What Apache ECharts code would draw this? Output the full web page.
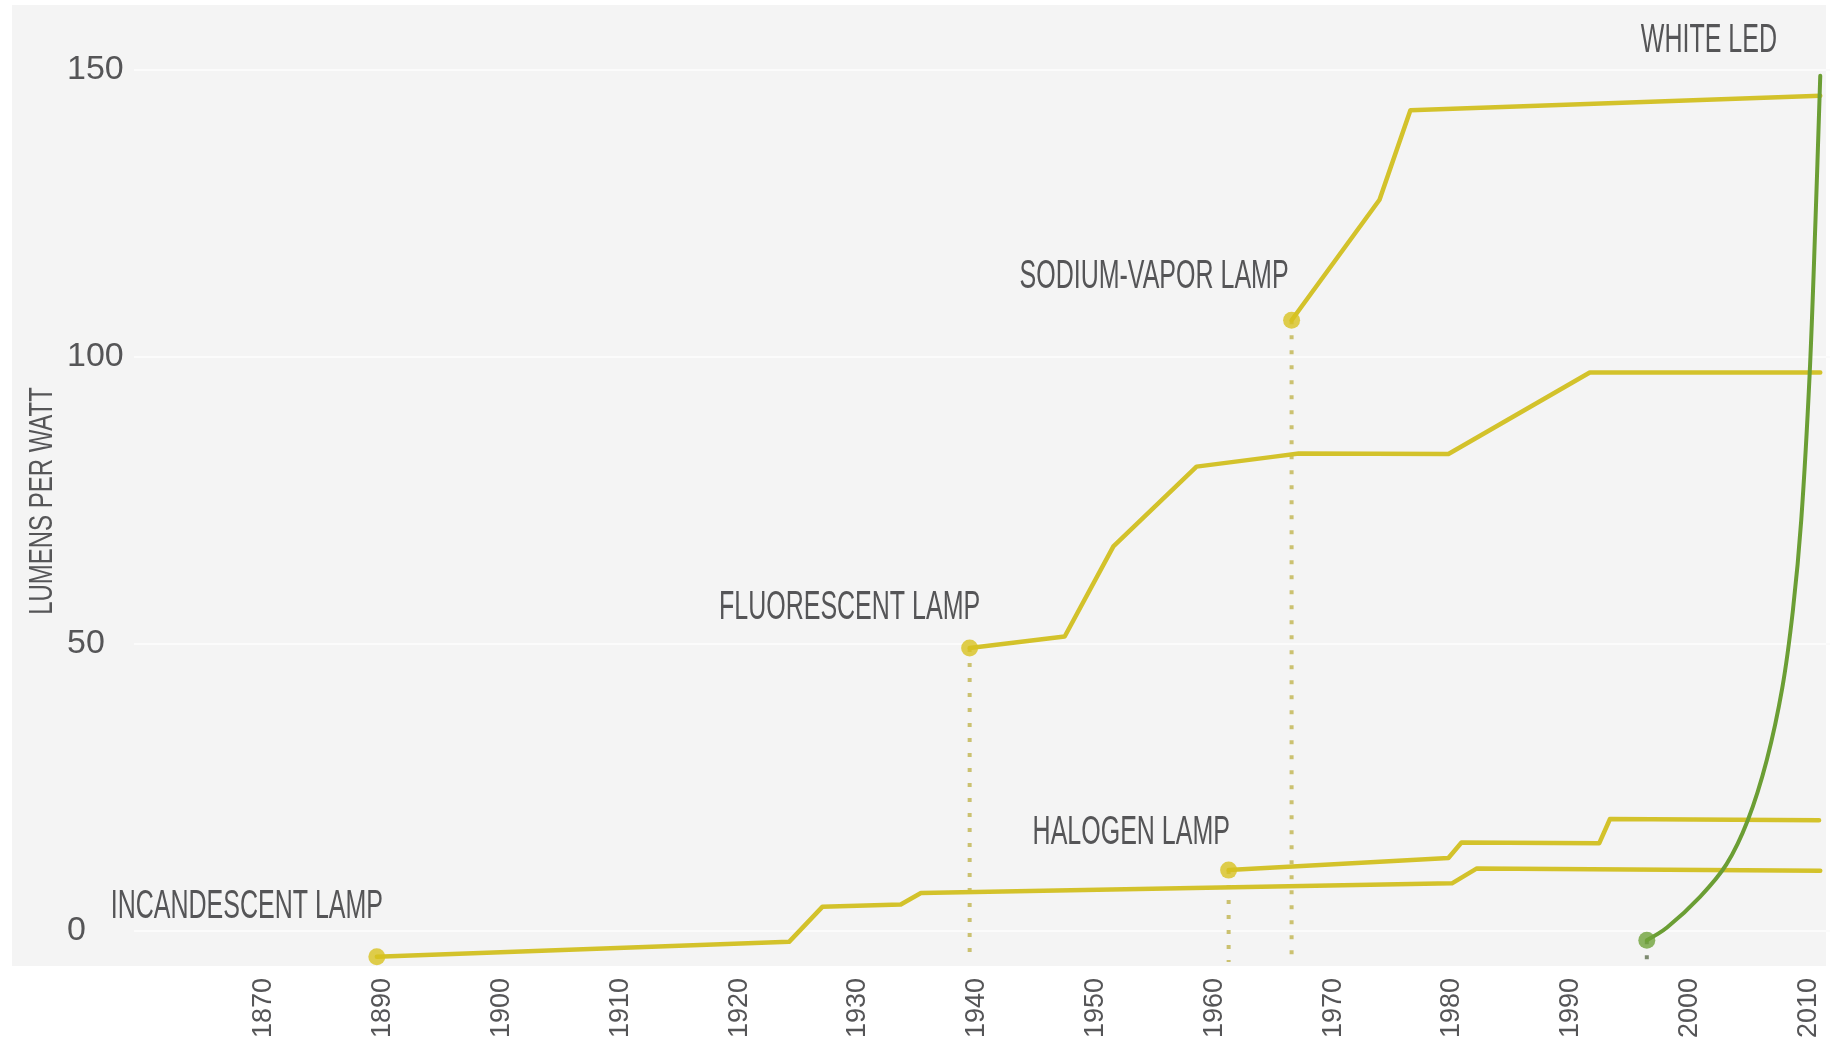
<!DOCTYPE html>
<html>
<head>
<meta charset="utf-8">
<script src="https://cdn.jsdelivr.net/npm/echarts@6/dist/echarts.min.js"></script>
<style>
  html, body { margin: 0; padding: 0; background: #ffffff; }
  #wrap { position: relative; width: 1834px; height: 1042px; overflow: hidden; }
  #panel { position: absolute; left: 12px; top: 5px; width: 1814px; height: 961px; background: #f4f4f4; }
  #c { position: absolute; left: 0; top: 0; width: 1834px; height: 1042px; }
</style>
</head>
<body>
<div id="wrap"><div id="panel"></div><div id="c"></div></div>
<script>
// ---------- tick labels ----------
const xTickPositions = [1880, 1890, 1900, 1910, 1920, 1930, 1940, 1950, 1960, 1970, 1980, 1990, 2000, 2010];
const xTickLabels = ['1870', '1890', '1900', '1910', '1920', '1930', '1940', '1950', '1960', '1970', '1980', '1990', '2000', '2010'];
const yTickValues = [0, 50, 100, 150];

// ---------- series values: [year, lumens per watt] ----------
const incandescent = [[1889.5, -4.5], [1924.2, -1.9], [1927.0, 4.2], [1933.6, 4.6], [1935.3, 6.6], [1980.0, 8.3], [1982.1, 10.9], [2011.0, 10.5]];
const halogen = [[1961.2, 10.6], [1979.7, 12.7], [1980.8, 15.4], [1992.4, 15.3], [1993.3, 19.5], [2010.9, 19.3]];
const fluorescent = [[1939.4, 49.3], [1947.4, 51.3], [1951.5, 67.0], [1958.5, 80.9], [1964.9, 82.6], [1967.1, 83.2], [1979.7, 83.1], [1991.6, 97.3], [2011.0, 97.3]];
const sodiumVapor = [[1966.5, 106.4], [1973.9, 127.4], [1976.5, 143.0], [2011.0, 145.5]];
const whiteLed = [[1996.4, -1.6], [1998.1, 0.6], [2000.9, 6.0], [2003.1, 11.6], [2004.9, 19.3], [2006.5, 29.8], [2007.8, 42.3], [2008.7, 55.9], [2009.4, 71.6], [2010.1, 96.7], [2010.6, 123.9], [2011.0, 149.0]];
const dropBottom = -5.4;

// ---------- annotation texts anchored in data space ----------
const annotationTexts = ['INCANDESCENT LAMP', 'FLUORESCENT LAMP', 'HALOGEN LAMP', 'SODIUM-VAPOR LAMP', 'WHITE LED'];
const annotationAnchors = [[1867.1, 4.1], [1918.3, 56.3], [1944.7, 17.1], [1943.6, 114.0], [1995.9, 155.05]];
const yAxisTitle = 'LUMENS PER WATT';

// ---------- styles ----------
const YELLOW = '#d3c22b';
const YELLOW_DOT = '#d8c21f';
const YELLOW_DROP = '#cbc170';
const GREEN = '#6b9e34';
const GREEN_DOT = '#6fa33a';
const TEXT = '#555557';
const AXIS_FONT = "'Liberation Sans', Arial, sans-serif";

function lineSeries(name, data, color, width, extra) {
  return Object.assign({
    name: name, type: 'line', data: data, showSymbol: false, symbol: 'none',
    lineStyle: { color: color, width: width, join: 'round', cap: 'round' },
    z: 3, silent: true, animation: false
  }, extra || {});
}
function dropSeries(start, color) {
  return {
    type: 'line', data: [[start[0], start[1]], [start[0], dropBottom]], showSymbol: false, symbol: 'none',
    lineStyle: { color: color, width: 4, type: [4, 11], cap: 'butt' }, z: 1, silent: true, animation: false
  };
}

const starts = [
  { p: incandescent[0], c: YELLOW_DOT },
  { p: fluorescent[0], c: YELLOW_DOT },
  { p: halogen[0], c: YELLOW_DOT },
  { p: sodiumVapor[0], c: YELLOW_DOT },
  { p: whiteLed[0], c: GREEN_DOT }
];

const option = {
  backgroundColor: 'transparent',
  animation: false,
  grid: { left: 134, right: 4, top: 12.6, bottom: 76.6, containLabel: false, outerBoundsMode: 'none' },
  xAxis: {
    type: 'value', min: 1869.06, max: 2011.82,
    axisLine: { show: false }, axisTick: { show: false, customValues: xTickPositions },
    splitLine: { show: false },
    axisLabel: {
      customValues: xTickPositions, rotate: 90, margin: 12.6,
      formatter: function (v) { return xTickLabels[xTickPositions.indexOf(Math.round(v))]; },
      color: TEXT, fontSize: 27, fontFamily: AXIS_FONT
    }
  },
  yAxis: {
    type: 'value', min: -6, max: 160,
    axisLine: { show: false }, axisTick: { show: false, customValues: yTickValues },
    splitLine: { show: true, lineStyle: { color: '#fbfbfb', width: 2 } },
    axisLabel: { customValues: yTickValues, align: 'left', margin: 67, color: TEXT, fontSize: 34, fontFamily: AXIS_FONT }
  },
  series: [
    dropSeries(fluorescent[0], YELLOW_DROP),
    dropSeries(halogen[0], YELLOW_DROP),
    dropSeries(sodiumVapor[0], YELLOW_DROP),
    dropSeries(whiteLed[0], '#7d8a70'),
    lineSeries('Incandescent lamp', incandescent, YELLOW, 4.5),
    lineSeries('Halogen lamp', halogen, YELLOW, 4.5),
    lineSeries('Fluorescent lamp', fluorescent, YELLOW, 4.5),
    lineSeries('Sodium-vapor lamp', sodiumVapor, YELLOW, 4.5),
    lineSeries('White LED', whiteLed, GREEN, 4, { smooth: 0.35, z: 4 }),
    {
      type: 'scatter', symbol: 'circle', symbolSize: 17, z: 5, silent: true, animation: false,
      data: starts.map(function (s) { return { value: s.p, itemStyle: { color: s.c } }; })
    }
  ]
};

const chart = echarts.init(document.getElementById('c'), null, { renderer: 'canvas' });
chart.setOption(option);

const annElements = annotationTexts.map(function (t, i) {
  const p = chart.convertToPixel({ gridIndex: 0 }, annotationAnchors[i]);
  return {
    type: 'text', id: 'ann' + i, x: p[0], y: p[1], scaleX: 0.625, z: 50, silent: true,
    style: { text: t, x: 0, y: 0, align: 'left', verticalAlign: 'middle', font: '40px "Liberation Sans", Arial, sans-serif', fill: TEXT }
  };
});
annElements.push({
  type: 'text', id: 'ytitle', x: 43, y: 501, rotation: Math.PI / 2, scaleX: 0.705, z: 50, silent: true,
  style: { text: yAxisTitle, x: 0, y: 0, align: 'center', verticalAlign: 'middle', font: '34px "Liberation Sans", Arial, sans-serif', fill: TEXT }
});
chart.setOption({ graphic: { elements: annElements } });
</script>
</body>
</html>
